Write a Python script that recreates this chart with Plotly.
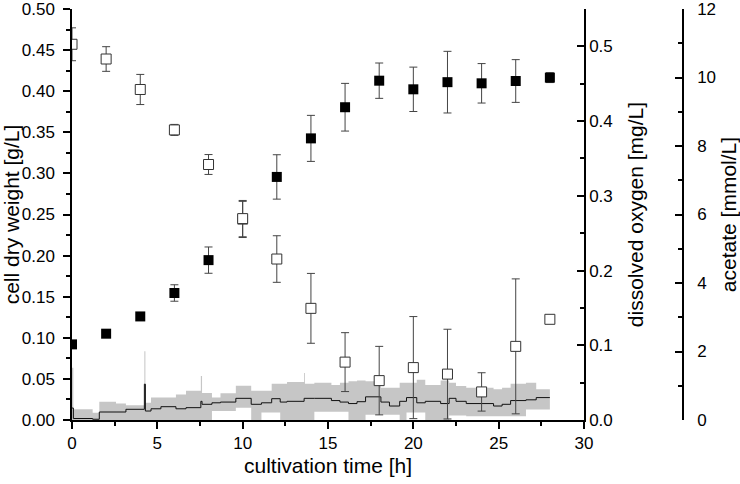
import plotly.graph_objects as go

# ---- data ----
time_h = [0, 2, 4, 6, 8, 10, 12, 14, 16, 18, 20, 22, 24, 26, 28]
cdw = [0.092, 0.105, 0.126, 0.1545, 0.1945, 0.244, 0.2957, 0.3426, 0.3805, 0.4128,
       0.4023, 0.411, 0.4096, 0.4124, 0.4165]
cdw_err = [0.003, 0.003, 0.004, 0.010, 0.016, 0.022, 0.027, 0.028, 0.029, 0.0215,
           0.027, 0.0375, 0.024, 0.026, 0.006]
acetate = [10.97, 10.54, 9.65, 8.47, 7.46, 5.88, 4.70, 3.26, 1.69, 1.15, 1.53, 1.34,
           0.82, 2.15, 2.94]
acetate_err = [0.48, 0.36, 0.44, 0.16, 0.29, 0.53, 0.68, 1.02, 0.86, 1.0, 1.49, 1.31,
               0.56, 1.97, 0.07]

do_time = [0.00, 0.08, 1.21, 1.60, 2.58, 3.16, 4.24, 4.30, 4.63, 5.21, 6.09, 6.68, 7.55,
           7.62, 8.2, 8.7, 9.6, 10.5, 11.1, 11.7, 12.2, 12.6, 13.6, 13.65, 14.2, 15.2,
           15.7, 16.2, 16.7, 17.2, 18.1, 18.6, 19.2, 19.6, 20.2, 20.7, 21.6, 22.1, 22.5,
           23.1, 24.7, 25.2, 25.7, 26.6, 27.2, 28.0]
do_mean = [0.016, 0.002, 0.001, 0.0107, 0.0107, 0.0143, 0.048, 0.012, 0.015, 0.0178,
           0.015, 0.0165, 0.025, 0.021, 0.023, 0.024, 0.029, 0.021, 0.023, 0.0285,
           0.024, 0.025, 0.029, 0.029, 0.029, 0.026, 0.024, 0.022, 0.0245, 0.031,
           0.024, 0.0187, 0.025, 0.030, 0.023, 0.025, 0.022, 0.029, 0.025, 0.022,
           0.0187, 0.021, 0.026, 0.027, 0.030, 0.030]
do_low = [0.0, 0.0, 0.0, 0.0, 0.0, 0.0, 0.0, 0.0, 0.0, 0.0, 0.0, 0.0, 0.0, 0.0, 0.012,
          0.012, 0.0165, 0.0, 0.01, 0.01, 0.0, 0.0, 0.0, 0.0, 0.011, 0.011, 0.011, 0.0,
          0.0, 0.007, 0.007, 0.007, 0.0, 0.01, 0.01, 0.0, 0.0, 0.006, 0.006, 0.005,
          0.005, 0.005, 0.005, 0.014, 0.014, 0.014]
do_high = [0.070, 0.0145, 0.0098, 0.0245, 0.022, 0.0196, 0.092, 0.023, 0.030, 0.030,
           0.034, 0.039, 0.059, 0.036, 0.030, 0.0357, 0.046, 0.039, 0.039, 0.0485,
           0.0485, 0.051, 0.063, 0.0485, 0.050, 0.047, 0.050, 0.052, 0.053, 0.052,
           0.043, 0.043, 0.050, 0.050, 0.054, 0.047, 0.053, 0.050, 0.0455, 0.043,
           0.041, 0.043, 0.0485, 0.050, 0.041, 0.041]

cdw_ticks = [0.0, 0.05, 0.10, 0.15, 0.20, 0.25, 0.30, 0.35, 0.40, 0.45, 0.50]
do_ticks = [0.0, 0.1, 0.2, 0.3, 0.4, 0.5]
acetate_ticks = [0, 2, 4, 6, 8, 10, 12]

FONT = "Liberation Sans, Arial, sans-serif"
W, H = 740, 484
ML, MR, MT, MB = 72, 0, 9, 64
plot_w = W - ML - MR
x_end = (584 - ML) / plot_w
ac_pos = (683 - ML) / plot_w

fig = go.Figure()

# dissolved oxygen band + line
fig.add_trace(go.Scatter(x=do_time, y=do_low, yaxis="y2", mode="lines",
                         line=dict(width=0, shape="hv"), showlegend=False,
                         hoverinfo="skip"))
fig.add_trace(go.Scatter(x=do_time, y=do_high, yaxis="y2", mode="lines",
                         line=dict(width=0, shape="hv"), fill="tonexty",
                         fillcolor="#c6c6c6", showlegend=False, hoverinfo="skip"))
fig.add_trace(go.Scatter(x=do_time, y=do_mean, yaxis="y2", mode="lines",
                         line=dict(color="#111111", width=1, shape="hv"),
                         showlegend=False))

# cell dry weight
fig.add_trace(go.Scatter(x=time_h, y=cdw, mode="markers",
                         marker=dict(symbol="square", size=10, color="black",
                                     line=dict(width=0)),
                         error_y=dict(type="data", array=cdw_err, color="#444444",
                                      thickness=1, width=4),
                         showlegend=False))
# acetate
fig.add_trace(go.Scatter(x=time_h, y=acetate, yaxis="y3", mode="markers",
                         marker=dict(symbol="square", size=10, color="white",
                                     line=dict(width=1, color="#333333")),
                         error_y=dict(type="data", array=acetate_err, color="#444444",
                                      thickness=1, width=4),
                         showlegend=False))

TICKFONT = dict(family=FONT, size=17, color="black")
TITLEFONT = dict(family=FONT, size=21, color="black")
axis_common = dict(showline=True, linecolor="black", linewidth=1.5, showgrid=False,
                   zeroline=False, tickcolor="black", tickwidth=1.5, ticklen=7,
                   tickfont=TICKFONT, automargin=False, ticklabeloverflow="allow")
minor_common = dict(ticklen=4, tickwidth=1.5, tickcolor="black")

fig.update_layout(
    width=W, height=H,
    margin=dict(l=ML, r=MR, t=MT, b=MB),
    paper_bgcolor="white", plot_bgcolor="white",
    font=dict(family=FONT, color="black"),
    xaxis=dict(domain=[0, x_end], range=[0, 30], dtick=5, ticks="outside",
               minor=dict(ticks="outside", dtick=2.5, **minor_common),
               title=dict(text="cultivation time [h]", font=TITLEFONT, standoff=6),
               **axis_common),
    yaxis=dict(range=[0, 0.5], tickmode="array", tickvals=cdw_ticks,
               tickformat=".2f", ticks="outside", ticklabelstandoff=5,
               minor=dict(ticks="outside", tickmode="linear", tick0=0, dtick=0.025,
                          **minor_common),
               title=dict(text="cell dry weight [g/L]", font=TITLEFONT, standoff=3),
               **axis_common),
    yaxis2=dict(overlaying="y", side="right", anchor="x", range=[0, 0.55],
                tickmode="array", tickvals=do_ticks, tickformat=".1f",
                ticks="inside",
                minor=dict(ticks="inside", tickmode="linear", tick0=0, dtick=0.05,
                           **minor_common),
                title=dict(text="dissolved oxygen [mg/L]", font=TITLEFONT,
                           standoff=17),
                **axis_common),
    yaxis3=dict(overlaying="y", side="right", anchor="free", position=ac_pos,
                range=[0, 12], tickmode="array", tickvals=acetate_ticks,
                ticks="inside", ticklabelstandoff=10,
                minor=dict(ticks="inside", tickmode="linear", tick0=0, dtick=1,
                           **minor_common),
                title=dict(text="acetate [mmol/L]", font=TITLEFONT, standoff=6),
                **axis_common),
)

fig.write_html("out.html", config={"displayModeBar": False},
               post_script="document.body.style.margin='0';")
